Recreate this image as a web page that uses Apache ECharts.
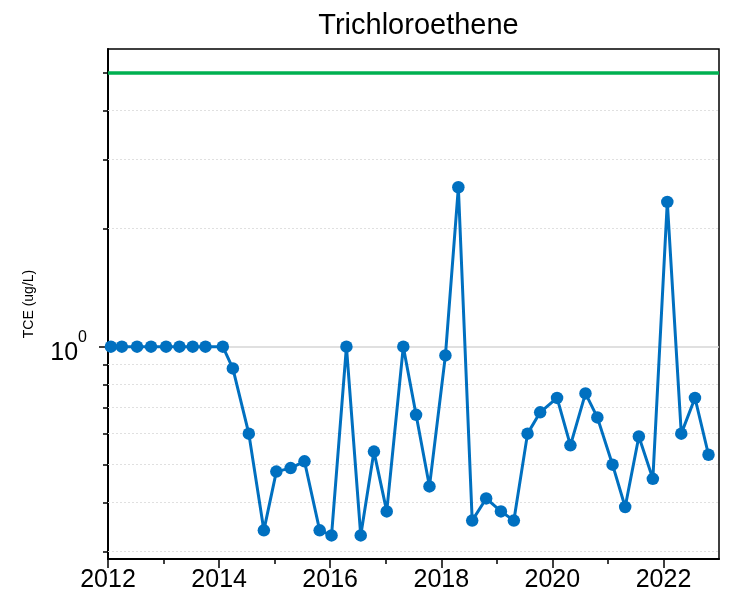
<!DOCTYPE html>
<html><head><meta charset="utf-8">
<script src="https://cdn.jsdelivr.net/npm/echarts@6/dist/echarts.min.js"></script>
<style>html,body{margin:0;padding:0;background:#fff}#c{width:730px;height:605px}</style>
</head><body><div id="c"></div>
<script>
// ---- data ----
const sampleDates = [
  '2012-01-20','2012-04-01','2012-07-10','2012-10-10',
  '2013-01-17','2013-04-15','2013-07-11','2013-10-03',
  '2014-01-25','2014-04-01','2014-07-15','2014-10-22',
  '2015-01-12','2015-04-16','2015-07-16','2015-10-24',
  '2016-01-10','2016-04-17','2016-07-20','2016-10-15',
  '2017-01-07','2017-04-26','2017-07-19','2017-10-15',
  '2018-01-28','2018-04-23','2018-07-23','2018-10-23',
  '2019-01-28','2019-04-23','2019-07-22','2019-10-13',
  '2020-02-01','2020-04-29','2020-08-06','2020-10-23',
  '2021-01-31','2021-04-24','2021-07-23','2021-10-23',
  '2022-01-26','2022-04-28','2022-07-27','2022-10-24'
];
const tceValues = [
  1, 1, 1, 1,
  1, 1, 1, 1,
  1, 0.88, 0.60, 0.34,
  0.48, 0.49, 0.51, 0.34,
  0.33, 1, 0.33, 0.54,
  0.38, 1, 0.67, 0.44,
  0.95, 2.55, 0.36, 0.41,
  0.38, 0.36, 0.60, 0.68,
  0.74, 0.56, 0.76, 0.66,
  0.50, 0.39, 0.59, 0.46,
  2.34, 0.60, 0.74, 0.53
];
const mclValue = 5;
const yMin = 0.2873, yMax = 5.745;
const xMin = '2012-01-01', xMax = '2023-01-01';
const yMinorTicks = [0.3, 0.4, 0.5, 0.6, 0.7, 0.8, 0.9, 2, 3, 4, 5];
const yMajorTicks = [1];
const yGridMinor = [0.3, 0.4, 0.5, 0.6, 0.7, 0.8, 0.9, 2, 3, 4];
const xMinorYears = [2012,2013,2014,2015,2016,2017,2018,2019,2020,2021,2022];
const xMajorYears = [2012,2014,2016,2018,2020,2022];

// ---- chart ----
const FONT = '"Liberation Sans", Arial, sans-serif';
const yearTs = y => Date.UTC(y, 0, 1);
const ts = s => Date.parse(s + 'T00:00:00Z');
const chart = echarts.init(document.getElementById('c'), null, {renderer: 'canvas'});
const seriesData = sampleDates.map((d, i) => [ts(d), tceValues[i]]);

const option = {
  animation: false,
  textStyle: {fontFamily: FONT},
  title: {
    text: 'Trichloroethene', left: 413.5, top: 6, textAlign: 'center',
    textStyle: {fontFamily: FONT, fontSize: 29, fontWeight: 'normal', color: '#000'}
  },
  grid: {left: 108, right: 11, top: 49, bottom: 46, show: true, borderColor: '#000', borderWidth: 1.5, backgroundColor: 'transparent'},
  xAxis: [{
    type: 'value', min: ts(xMin), max: ts(xMax), scale: true,
    axisLine: {lineStyle: {color: '#000', width: 2}},
    axisTick: {show: true, length: 5, customValues: xMinorYears.map(yearTs), lineStyle: {color: '#000', width: 1.5}},
    axisLabel: {show: false},
    splitLine: {show: false}
  }, {
    type: 'value', min: ts(xMin), max: ts(xMax), scale: true, position: 'bottom',
    axisLine: {show: false},
    axisTick: {show: true, length: 9, customValues: xMajorYears.map(yearTs), lineStyle: {color: '#000', width: 1.5}},
    axisLabel: {show: true, customValues: xMajorYears.map(yearTs), margin: 9,
      formatter: v => String(new Date(v).getUTCFullYear()),
      fontFamily: FONT, fontSize: 25, color: '#000'},
    splitLine: {show: false}
  }],
  yAxis: [{
    type: 'log', logBase: 10, min: yMin, max: yMax,
    name: 'TCE (ug/L)', nameLocation: 'middle', nameGap: 72, nameRotate: 90,
    nameTextStyle: {fontFamily: FONT, fontSize: 14, color: '#000'},
    axisLine: {show: true, lineStyle: {color: '#000', width: 2}},
    axisTick: {show: true, length: 5, customValues: yMinorTicks, lineStyle: {color: '#000', width: 1.5}},
    axisLabel: {show: true, customValues: yMajorTicks, margin: 21,
      formatter: v => '{b|10}{s|0}',
      rich: {
        b: {fontFamily: FONT, fontSize: 25, color: '#000', lineHeight: 38.6, verticalAlign: 'bottom'},
        s: {fontFamily: FONT, fontSize: 16, color: '#000', lineHeight: 38.6, verticalAlign: 'top', padding: [2, 0, 0, 0]}
      }},
    splitLine: {show: false}
  }, {
    type: 'log', logBase: 10, min: yMin, max: yMax, position: 'left',
    axisLine: {show: false},
    axisTick: {show: true, length: 9, customValues: yMajorTicks, lineStyle: {color: '#000', width: 1.5}},
    axisLabel: {show: false},
    splitLine: {show: false}
  }],
  series: [{
    type: 'line', data: [], silent: true, z: 1,
    markLine: {
      silent: true, symbol: ['none', 'none'], label: {show: false},
      data: yGridMinor.map(v => ({yAxis: v, lineStyle: {color: '#e0e0e0', width: 1, type: [2, 2]}}))
        .concat([{yAxis: 1, lineStyle: {color: '#d6d6d6', width: 1.5, type: 'solid'}}])
    }
  }, {
    type: 'line', data: [], silent: true, z: 2,
    markLine: {
      silent: true, symbol: ['none', 'none'], label: {show: false},
      data: [{yAxis: mclValue, lineStyle: {color: '#00b050', width: 3.5, type: 'solid'}}]
    }
  }, {
    type: 'line', data: seriesData, z: 5,
    lineStyle: {color: '#0070c0', width: 3},
    itemStyle: {color: '#0070c0'},
    symbol: 'circle', symbolSize: 12.5, showSymbol: true
  }]
};
chart.setOption(option);
</script>
</body></html>
